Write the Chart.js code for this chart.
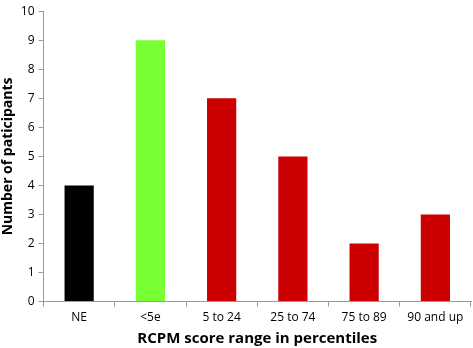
<!DOCTYPE html>
<html lang="en">
<head>
    <meta charset="UTF-8">
    <title>RCPM score ranges</title>
    <script src="https://cdn.jsdelivr.net/npm/chart.js@4.4.3/dist/chart.umd.min.js"></script>
    <style>
        html, body { margin: 0; padding: 0; background: #fff; }
        #wrap { width: 473px; height: 348px; }
    </style>
</head>
<body>
    <div id="wrap"><canvas id="mychart" width="473" height="348"></canvas></div>
    <script>
        // data
        var categories = ['NE', '<5e', '5 to 24', '25 to 74', '75 to 89', '90 and up'];
        var participants = [4, 9, 7, 5, 2, 3];
        var barColors = ['#000000', '#77ff33', '#cc0000', '#cc0000', '#cc0000', '#cc0000'];

        var fontFamily = "'Open Sans', 'Liberation Sans', sans-serif";

        var config = {
            type: 'bar',
            data: {
                labels: categories,
                datasets: [{
                    label: 'Number of paticipants',
                    data: participants,
                    backgroundColor: barColors,
                    borderWidth: 0,
                    categoryPercentage: 1.0,
                    barPercentage: 0.41
                }]
            },
            options: {
                responsive: false,
                animation: false,
                layout: { padding: { top: -5, right: 2, left: 0, bottom: 0 } },
                scales: {
                    x: {
                        grid: {
                            offset: true,
                            drawOnChartArea: false,
                            drawTicks: true,
                            tickLength: 5,
                            color: '#999'
                        },
                        border: { color: '#999', width: 1 },
                        ticks: {
                            color: '#000',
                            padding: 4,
                            maxRotation: 0,
                            font: { family: fontFamily, size: 12 }
                        },
                        title: {
                            display: true,
                            text: 'RCPM score range in percentiles',
                            color: '#000',
                            padding: { top: 1, bottom: 0 },
                            font: { family: fontFamily, size: 15, weight: 'bold' }
                        }
                    },
                    y: {
                        min: 0,
                        max: 10,
                        grid: {
                            drawOnChartArea: false,
                            drawTicks: true,
                            tickLength: 5,
                            color: '#999'
                        },
                        border: { color: '#999', width: 1 },
                        ticks: {
                            stepSize: 1,
                            color: '#000',
                            padding: 4,
                            font: { family: fontFamily, size: 12 }
                        },
                        title: {
                            display: true,
                            text: 'Number of paticipants',
                            color: '#000',
                            padding: { top: 0, bottom: 0 },
                            font: { family: fontFamily, size: 14, weight: 'bold' }
                        }
                    }
                },
                plugins: {
                    legend: { display: false },
                    tooltip: { enabled: false }
                }
            }
        };

        var mychart = new Chart(document.getElementById('mychart'), config);
    </script>
</body>
</html>
